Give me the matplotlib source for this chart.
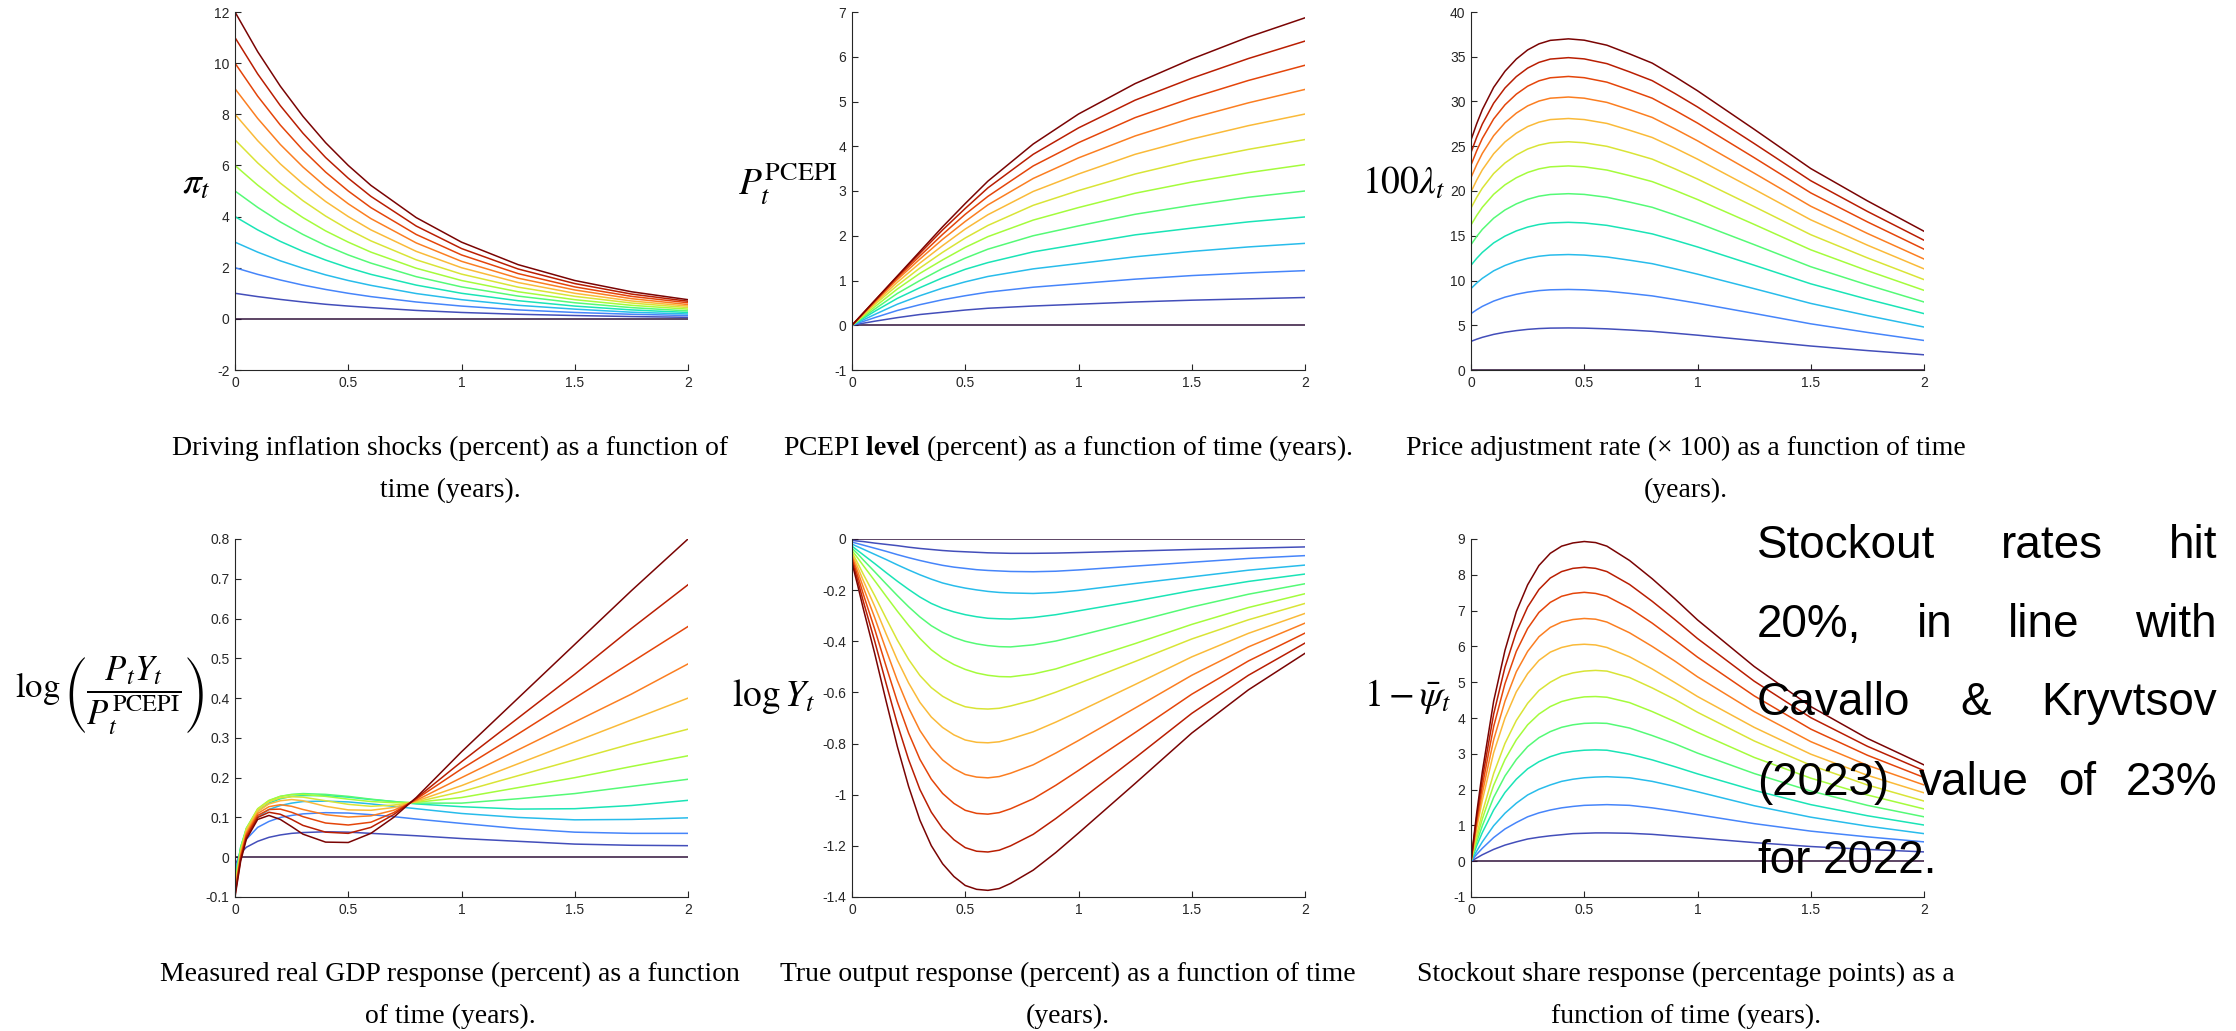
import numpy as np
import matplotlib
matplotlib.use("Agg")
import matplotlib.pyplot as plt

# time grids (years) for each panel
t_pi = [0, 0.1, 0.2, 0.3, 0.4, 0.5, 0.6, 0.8, 1.0, 1.25, 1.5, 1.75, 2.0]
t_pce = [0, 0.1, 0.2, 0.3, 0.4, 0.5, 0.6, 0.8, 1.0, 1.25, 1.5, 1.75, 2.0]
t_lam = [0, 0.025, 0.05, 0.1, 0.15, 0.2, 0.25, 0.3, 0.35, 0.43,
         0.5, 0.6, 0.7, 0.8, 0.9, 1.0, 1.25, 1.5, 1.75, 2.0]
t_gdp = [0, 0.025, 0.05, 0.1, 0.15, 0.2, 0.25, 0.3, 0.4, 0.5, 0.6, 0.7, 0.8,
         1.0, 1.25, 1.5, 1.75, 2.0]
t_y = [0, 0.025, 0.05, 0.1, 0.15, 0.2, 0.25, 0.3, 0.35, 0.4, 0.45, 0.5, 0.55,
       0.6, 0.65, 0.7, 0.8, 0.9, 1.0, 1.25, 1.5, 1.75, 2.0]
t_psi = [0, 0.025, 0.05, 0.1, 0.15, 0.2, 0.25, 0.3, 0.35, 0.4, 0.45, 0.5, 0.55,
         0.6, 0.7, 0.8, 0.9, 1.0, 1.25, 1.5, 1.75, 2.0]

# driving inflation shocks, one row per shock size (0..12)
pi_vals = [
    [0, 0, 0, 0, 0, 0, 0, 0, 0, 0, 0, 0, 0],
    [1, .87, .76, .66, .57, .50, .44, .33, .25, .18, .13, .09, .06],
    [2, 1.74, 1.52, 1.32, 1.15, 1.0, .87, .66, .50, .35, .25, .18, .13],
    [3, 2.61, 2.27, 1.98, 1.72, 1.5, 1.31, .99, .75, .53, .38, .26, .19],
    [4, 3.48, 3.03, 2.64, 2.30, 2.0, 1.74, 1.32, 1.0, .71, .50, .35, .25],
    [5, 4.36, 3.79, 3.30, 2.87, 2.5, 2.18, 1.65, 1.25, .89, .63, .44, .31],
    [6, 5.23, 4.55, 3.96, 3.44, 3.0, 2.61, 1.98, 1.5, 1.06, .75, .53, .38],
    [7, 6.10, 5.31, 4.62, 4.02, 3.5, 3.05, 2.31, 1.75, 1.24, .88, .62, .44],
    [8, 6.97, 6.06, 5.28, 4.59, 4.0, 3.48, 2.64, 2.0, 1.42, 1.0, .70, .50],
    [9, 7.84, 6.82, 5.94, 5.17, 4.5, 3.92, 2.97, 2.25, 1.59, 1.13, .79, .56],
    [10, 8.71, 7.58, 6.60, 5.74, 5.0, 4.35, 3.30, 2.5, 1.77, 1.25, .88, .63],
    [11, 9.58, 8.34, 7.26, 6.31, 5.5, 4.79, 3.63, 2.75, 1.95, 1.38, .97, .69],
    [12, 10.45, 9.10, 7.92, 6.89, 6.0, 5.22, 3.96, 3.0, 2.12, 1.5, 1.06, .75],
]

pce_vals = [
    [0, 0, 0, 0, 0, 0, 0, 0, 0, 0, 0, 0, 0],
    [0, .09, .17, .24, .29, .34, .38, .43, .47, .52, .56, .59, .62],
    [0, .17, .33, .46, .57, .66, .74, .85, .93, 1.03, 1.11, 1.17, 1.22],
    [0, .24, .47, .66, .83, .97, 1.09, 1.26, 1.38, 1.53, 1.65, 1.75, 1.83],
    [0, .31, .60, .84, 1.06, 1.25, 1.40, 1.64, 1.81, 2.02, 2.17, 2.31, 2.42],
    [0, .36, .71, 1.0, 1.27, 1.50, 1.70, 2.0, 2.22, 2.48, 2.68, 2.86, 3.0],
    [0, .41, .81, 1.16, 1.46, 1.74, 1.98, 2.35, 2.63, 2.95, 3.20, 3.41, 3.59],
    [0, .46, .89, 1.28, 1.63, 1.95, 2.23, 2.68, 3.01, 3.38, 3.68, 3.93, 4.15],
    [0, .49, .96, 1.39, 1.78, 2.15, 2.47, 2.99, 3.38, 3.82, 4.16, 4.46, 4.72],
    [0, .52, 1.02, 1.48, 1.92, 2.32, 2.69, 3.28, 3.74, 4.23, 4.63, 4.97, 5.27],
    [0, .53, 1.06, 1.55, 2.03, 2.48, 2.88, 3.56, 4.08, 4.64, 5.08, 5.47, 5.81],
    [0, .55, 1.09, 1.61, 2.13, 2.61, 3.07, 3.82, 4.41, 5.03, 5.52, 5.96, 6.35],
    [0, .55, 1.10, 1.65, 2.20, 2.72, 3.22, 4.05, 4.72, 5.40, 5.95, 6.44, 6.87],
]

lam_vals = [
    [0] * 20,
    [3.2, 3.44, 3.65, 3.98, 4.22, 4.4, 4.54, 4.63, 4.68, 4.7,
     4.68, 4.6, 4.47, 4.32, 4.11, 3.89, 3.29, 2.68, 2.17, 1.7],
    [6.3, 6.73, 7.11, 7.7, 8.14, 8.46, 8.7, 8.87, 8.96, 9.0,
     8.96, 8.81, 8.56, 8.28, 7.88, 7.46, 6.32, 5.16, 4.2, 3.3],
    [9.1, 9.71, 10.24, 11.08, 11.68, 12.14, 12.48, 12.71, 12.84, 12.9,
     12.84, 12.63, 12.27, 11.88, 11.31, 10.71, 9.09, 7.44, 6.08, 4.8],
    [11.7, 12.47, 13.14, 14.2, 14.96, 15.54, 15.97, 16.26, 16.43, 16.5,
     16.43, 16.16, 15.7, 15.21, 14.5, 13.75, 11.71, 9.63, 7.91, 6.3],
    [14.0, 14.91, 15.71, 16.96, 17.88, 18.56, 19.07, 19.42, 19.61, 19.7,
     19.62, 19.3, 18.76, 18.18, 17.33, 16.43, 14.01, 11.54, 9.51, 7.6],
    [16.2, 17.26, 18.18, 19.63, 20.69, 21.48, 22.07, 22.47, 22.7, 22.8,
     22.7, 22.34, 21.72, 21.05, 20.08, 19.05, 16.27, 13.43, 11.1, 8.9],
    [18.1, 19.28, 20.32, 21.95, 23.13, 24.02, 24.69, 25.13, 25.39, 25.5,
     25.39, 24.99, 24.3, 23.56, 22.48, 21.34, 18.26, 15.12, 12.53, 10.1],
    [19.9, 21.21, 22.36, 24.16, 25.48, 26.46, 27.2, 27.69, 27.98, 28.1,
     27.98, 27.55, 26.79, 25.98, 24.81, 23.56, 20.2, 16.78, 13.95, 11.3],
    [21.5, 22.94, 24.2, 26.18, 27.62, 28.7, 29.51, 30.05, 30.37, 30.5,
     30.37, 29.9, 29.09, 28.22, 26.95, 25.61, 22.0, 18.3, 15.26, 12.4],
    [22.9, 24.48, 25.87, 28.05, 29.63, 30.82, 31.71, 32.31, 32.65, 32.8,
     32.66, 32.16, 31.29, 30.37, 29.02, 27.59, 23.73, 19.79, 16.55, 13.5],
    [24.3, 26.0, 27.48, 29.81, 31.51, 32.78, 33.73, 34.37, 34.74, 34.9,
     34.76, 34.23, 33.31, 32.33, 30.9, 29.39, 25.31, 21.15, 17.72, 14.5],
    [25.7, 27.51, 29.09, 31.58, 33.38, 34.74, 35.76, 36.44, 36.83, 37.0,
     36.85, 36.29, 35.32, 34.29, 32.79, 31.2, 26.9, 22.51, 18.9, 15.5],
]

gdp_vals = [
    [0] * 18,
    [-0.02, 0.01, 0.025, 0.04, 0.05, 0.056, 0.06, 0.062, 0.064, 0.063, 0.06, 0.057, 0.054, 0.047, 0.04, 0.033, 0.03, 0.029],
    [-0.035, 0.015, 0.045, 0.075, 0.09, 0.1, 0.105, 0.109, 0.112, 0.111, 0.107, 0.102, 0.096, 0.085, 0.072, 0.063, 0.06, 0.06],
    [-0.045, 0.02, 0.06, 0.1, 0.12, 0.13, 0.136, 0.14, 0.141, 0.139, 0.134, 0.128, 0.122, 0.11, 0.1, 0.094, 0.095, 0.099],
    [-0.055, 0.025, 0.07, 0.115, 0.136, 0.147, 0.153, 0.155, 0.155, 0.151, 0.145, 0.14, 0.134, 0.127, 0.121, 0.122, 0.13, 0.143],
    [-0.06, 0.025, 0.073, 0.12, 0.142, 0.153, 0.158, 0.16, 0.158, 0.153, 0.146, 0.14, 0.136, 0.136, 0.147, 0.16, 0.178, 0.196],
    [-0.07, 0.02, 0.072, 0.122, 0.143, 0.153, 0.157, 0.158, 0.153, 0.146, 0.14, 0.137, 0.138, 0.15, 0.175, 0.2, 0.228, 0.255],
    [-0.075, 0.015, 0.07, 0.12, 0.14, 0.149, 0.152, 0.151, 0.142, 0.133, 0.128, 0.131, 0.139, 0.165, 0.205, 0.245, 0.285, 0.322],
    [-0.08, 0.01, 0.065, 0.115, 0.134, 0.142, 0.145, 0.142, 0.128, 0.119, 0.118, 0.125, 0.141, 0.18, 0.235, 0.29, 0.345, 0.4],
    [-0.085, 0.005, 0.06, 0.11, 0.127, 0.132, 0.128, 0.12, 0.107, 0.101, 0.104, 0.118, 0.143, 0.2, 0.27, 0.34, 0.41, 0.486],
    [-0.09, 0.0, 0.055, 0.105, 0.12, 0.121, 0.113, 0.102, 0.086, 0.081, 0.088, 0.112, 0.146, 0.222, 0.31, 0.4, 0.49, 0.58],
    [-0.095, -0.005, 0.05, 0.1, 0.113, 0.108, 0.095, 0.08, 0.063, 0.06, 0.075, 0.107, 0.148, 0.24, 0.35, 0.46, 0.575, 0.685],
    [-0.1, -0.01, 0.045, 0.095, 0.105, 0.095, 0.077, 0.058, 0.038, 0.037, 0.06, 0.1, 0.15, 0.265, 0.4, 0.535, 0.67, 0.8],
]

y_vals = [
    [0] * 23,
    [-.005, -.008, -.01, -.016, -.021, -.026, -.032, -.037, -.041, -.045, -.048, -.05,
     -.052, -.054, -.055, -.056, -.056, -.055, -.053, -.047, -.041, -.036, -.031],
    [-.012, -.018, -.024, -.036, -.048, -.061, -.073, -.084, -.094, -.103, -.11, -.115,
     -.12, -.123, -.125, -.127, -.128, -.126, -.121, -.106, -.091, -.076, -.065],
    [-.02, -.03, -.04, -.06, -.08, -.101, -.121, -.14, -.157, -.172, -.183, -.192,
     -.199, -.205, -.209, -.211, -.213, -.209, -.201, -.174, -.148, -.122, -.102],
    [-.028, -.045, -.062, -.096, -.131, -.165, -.197, -.227, -.252, -.271, -.285, -.296,
     -.304, -.310, -.312, -.313, -.307, -.296, -.281, -.243, -.202, -.166, -.137],
    [-.036, -.058, -.082, -.128, -.175, -.221, -.265, -.305, -.339, -.365, -.385, -.40,
     -.41, -.417, -.421, -.422, -.414, -.399, -.378, -.323, -.266, -.216, -.175],
    [-.045, -.074, -.104, -.163, -.223, -.282, -.338, -.389, -.433, -.466, -.491, -.510,
     -.524, -.533, -.538, -.539, -.528, -.508, -.48, -.409, -.334, -.268, -.214],
    [-.052, -.094, -.138, -.221, -.309, -.395, -.471, -.534, -.581, -.615, -.639, -.656,
     -.663, -.665, -.662, -.653, -.63, -.599, -.565, -.479, -.391, -.316, -.252],
    [-.06, -.11, -.163, -.263, -.37, -.473, -.563, -.639, -.696, -.737, -.766, -.786,
     -.795, -.797, -.793, -.782, -.754, -.716, -.675, -.569, -.461, -.369, -.291],
    [-.068, -.127, -.189, -.307, -.432, -.553, -.66, -.749, -.815, -.864, -.898, -.921,
     -.931, -.934, -.929, -.916, -.883, -.837, -.788, -.661, -.533, -.422, -.329],
    [-.076, -.144, -.216, -.352, -.496, -.636, -.759, -.862, -.939, -.995, -1.034, -1.061,
     -1.073, -1.076, -1.07, -1.055, -1.016, -.963, -.905, -.757, -.607, -.477, -.368],
    [-.085, -.162, -.244, -.399, -.563, -.723, -.863, -.98, -1.068, -1.132, -1.176, -1.207,
     -1.221, -1.224, -1.217, -1.2, -1.155, -1.093, -1.026, -.856, -.682, -.533, -.407],
    [-.094, -.181, -.273, -.447, -.632, -.811, -.968, -1.10, -1.199, -1.27, -1.32, -1.355,
     -1.37, -1.374, -1.367, -1.347, -1.295, -1.226, -1.15, -.956, -.759, -.59, -.447],
]

psi_vals = [
    [0] * 22,
    [0, .09, .18, .33, .45, .54, .62, .67, .71, .74, .77, .78, .79, .79,
     .78, .75, .70, .65, .52, .41, .33, .26],
    [0, .19, .36, .66, .90, 1.08, 1.24, 1.35, 1.43, 1.49, 1.53, 1.56, 1.57, 1.58,
     1.56, 1.49, 1.40, 1.30, 1.05, .84, .68, .54],
    [0, .28, .54, .99, 1.34, 1.62, 1.85, 2.01, 2.13, 2.23, 2.29, 2.33, 2.35, 2.36,
     2.33, 2.23, 2.09, 1.94, 1.55, 1.23, .98, .77],
    [0, .43, .80, 1.43, 1.92, 2.29, 2.58, 2.78, 2.92, 3.02, 3.07, 3.10, 3.11, 3.10,
     2.99, 2.83, 2.64, 2.44, 1.98, 1.58, 1.27, 1.01],
    [0, .53, .99, 1.78, 2.38, 2.84, 3.20, 3.45, 3.62, 3.74, 3.81, 3.85, 3.86, 3.85,
     3.72, 3.51, 3.28, 3.02, 2.45, 1.96, 1.56, 1.24],
    [0, .63, 1.18, 2.12, 2.84, 3.39, 3.81, 4.11, 4.32, 4.46, 4.54, 4.59, 4.6, 4.58,
     4.43, 4.18, 3.90, 3.60, 2.90, 2.32, 1.85, 1.46],
    [0, .73, 1.36, 2.45, 3.29, 3.93, 4.41, 4.77, 5.0, 5.17, 5.26, 5.31, 5.33, 5.31,
     5.13, 4.84, 4.52, 4.16, 3.36, 2.68, 2.13, 1.68],
    [0, .91, 1.70, 3.03, 4.0, 4.73, 5.24, 5.61, 5.84, 5.97, 6.04, 6.06, 6.04, 5.97,
     5.71, 5.37, 4.99, 4.60, 3.74, 2.99, 2.40, 1.91],
    [0, 1.02, 1.90, 3.39, 4.47, 5.29, 5.86, 6.27, 6.53, 6.68, 6.75, 6.78, 6.76, 6.68,
     6.38, 6.0, 5.59, 5.15, 4.18, 3.34, 2.68, 2.13],
    [0, 1.13, 2.10, 3.76, 4.96, 5.86, 6.50, 6.95, 7.23, 7.40, 7.48, 7.51, 7.48, 7.40,
     7.07, 6.65, 6.18, 5.70, 4.62, 3.69, 2.96, 2.34],
    [0, 1.23, 2.30, 4.11, 5.42, 6.40, 7.10, 7.59, 7.91, 8.09, 8.18, 8.21, 8.18, 8.09,
     7.73, 7.26, 6.75, 6.22, 5.03, 4.01, 3.21, 2.53],
    [0, 1.34, 2.50, 4.47, 5.89, 6.97, 7.72, 8.26, 8.60, 8.80, 8.89, 8.93, 8.90, 8.80,
     8.40, 7.89, 7.33, 6.74, 5.44, 4.32, 3.43, 2.69],
]

x_ticks = [0, 0.5, 1, 1.5, 2]
pi_ticks = [-2, 0, 2, 4, 6, 8, 10, 12]
pce_ticks = [-1, 0, 1, 2, 3, 4, 5, 6, 7]
lam_ticks = [0, 5, 10, 15, 20, 25, 30, 35, 40]
gdp_ticks = [-0.1, 0, 0.1, 0.2, 0.3, 0.4, 0.5, 0.6, 0.7, 0.8]
y_ticks = [-1.4, -1.2, -1, -0.8, -0.6, -0.4, -0.2, 0]
psi_ticks = [-1, 0, 1, 2, 3, 4, 5, 6, 7, 8, 9]

captions = [
    ["Driving inflation shocks (percent) as a function of", "time (years)."],
    [r"PCEPI $\mathbf{level}$ (percent) as a function of time (years)."],
    ["Price adjustment rate (\u00d7 100) as a function of time", "(years)."],
    ["Measured real GDP response (percent) as a function", "of time (years)."],
    ["True output response (percent) as a function of time", "(years)."],
    ["Stockout share response (percentage points) as a", "function of time (years)."],
]
ylabels = [r"$\pi_t$", r"$P_t^{\mathrm{PCEPI}}$", r"$100\lambda_t$",
           r"$\log\left(\dfrac{P_tY_t}{P_t^{\mathrm{PCEPI}}}\right)$",
           r"$\log Y_t$", r"$1-\bar{\psi}_t$"]
note_lines = ["Stockout rates hit", "20%, in line with", "Cavallo & Kryvtsov",
              "(2023) value of 23%", "for 2022."]

plt.rcParams["font.family"] = "Liberation Sans"
plt.rcParams["mathtext.fontset"] = "stix"
plt.rcParams["axes.unicode_minus"] = False

W, H = 2236, 1031
fig = plt.figure(figsize=(W / 100, H / 100), dpi=100)
colors = plt.cm.turbo(np.linspace(0, 1, 13))
axc = "#262626"

lefts = [235, 852, 1471]
tops = [12, 539]
cap_x = [450, 1068, 1686]
cap_base = [[455, 497], [981, 1023]]
lab_right = [211, 838, 1445, 204, 815, 1452]
lab_y = [184, 696]
lab_size = [27, 27, 27, 25, 27, 27]

data = [(t_pi, pi_vals, (-2, 12), pi_ticks),
        (t_pce, pce_vals, (-1, 7), pce_ticks),
        (t_lam, lam_vals, (0, 40), lam_ticks),
        (t_gdp, gdp_vals, (-0.1, 0.8), gdp_ticks),
        (t_y, y_vals, (-1.4, 0), y_ticks),
        (t_psi, psi_vals, (-1, 9), psi_ticks)]

for i, (t, vals, ylim, yt) in enumerate(data):
    row, col = divmod(i, 3)
    ax = fig.add_axes([lefts[col] / W, 1 - (tops[row] + 358) / H, 453 / W, 358 / H])
    for k, v in enumerate(vals):
        ax.plot(t, v, color=colors[k], lw=1.1)
    ax.set_xlim(0, 2)
    ax.set_ylim(*ylim)
    ax.set_xticks(x_ticks)
    ax.set_xticklabels([f"{v:g}" for v in x_ticks])
    ax.set_yticks(yt)
    ax.set_yticklabels([f"{v:g}" for v in yt])
    for s in ["top", "right"]:
        ax.spines[s].set_visible(False)
    for s in ["left", "bottom"]:
        ax.spines[s].set_color(axc)
        ax.spines[s].set_linewidth(0.8)
    ax.tick_params(direction="in", length=4, width=0.8, color=axc,
                   labelcolor=axc, labelsize=10, pad=4)

    fig.text(lab_right[i] / W, 1 - lab_y[row] / H, ylabels[i], ha="right",
             va="center", fontsize=lab_size[i])
    for j, line in enumerate(captions[i]):
        fig.text(cap_x[col] / W, 1 - cap_base[row][j] / H, line, ha="center",
                 va="baseline", family="Liberation Serif", fontsize=20)

# justified note on the right
renderer = fig.canvas.get_renderer()
x0, x1 = 1757, 2217
note_base = [558, 637, 715, 795, 873]
for n, (line, yb) in enumerate(zip(note_lines, note_base)):
    words = line.split()
    objs = [fig.text(0, 1 - yb / H, w, fontsize=33, va="baseline", ha="left")
            for w in words]
    widths = [o.get_window_extent(renderer).width for o in objs]
    if n == len(note_lines) - 1:
        gap = 12
    else:
        gap = (x1 - x0 - sum(widths)) / (len(words) - 1)
    x = x0
    for o, wd in zip(objs, widths):
        o.set_x(x / W)
        x += wd + gap

fig.savefig("out.png", dpi=100)
